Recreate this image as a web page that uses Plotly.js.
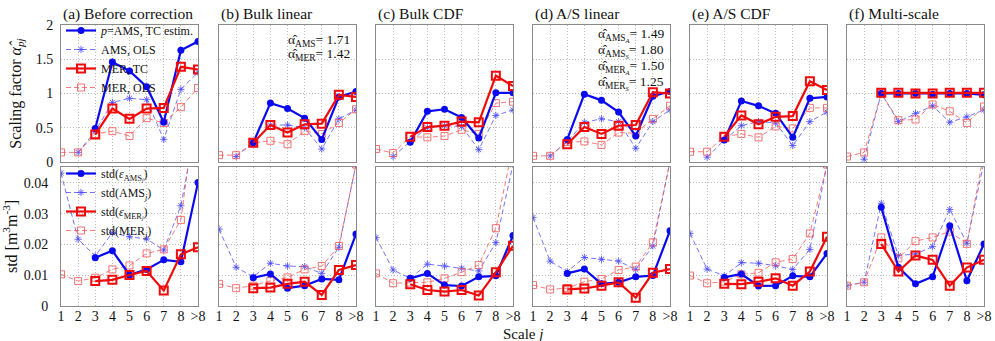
<!DOCTYPE html>
<html><head><meta charset="utf-8">
<script src="https://cdn.plot.ly/plotly-3.0.1.min.js"></script>
<style>html,body{margin:0;padding:0;background:#fff}#chart{width:995px;height:341px}</style>
</head><body><div id="chart"></div>
<script>
const scales = ['1','2','3','4','5','6','7','8','>8'];
const panelTitles = ['(a) Before correction','(b) Bulk linear','(c) Bulk CDF','(d) A/S linear','(e) A/S CDF','(f) Multi-scale'];
const topTicks = [0, 0.5, 1, 1.5, 2];
const topTickText = ['0','0.5','1','1.5','2'];
const botTicks = [0, 0.01, 0.02, 0.03, 0.04];
const botTickText = ['0','0.01','0.02','0.03','0.04'];

// Scaling factors (rows = panels a..f, columns = scales 1..>8)
const alphaAmsTC = [
 [null,null,0.49,1.46,1.33,1.10,0.58,1.63,1.76],
 [null,null,0.28,0.86,0.78,0.64,0.33,0.95,1.03],
 [null,null,0.29,0.74,0.77,0.65,0.35,1.01,1.01],
 [null,null,0.33,0.99,0.90,0.73,0.38,0.96,1.03],
 [null,null,0.32,0.89,0.82,0.71,0.36,0.93,0.95],
 [null,null,1.00,1.00,1.00,0.99,1.00,1.00,0.98]
];
const alphaAmsOLS = [
 [null,0.14,0.45,0.87,0.93,0.91,0.33,1.06,1.31],
 [null,0.08,0.28,0.54,0.54,0.50,0.19,0.63,0.76],
 [null,0.08,0.30,0.50,0.53,0.52,0.18,0.68,0.76],
 [null,0.09,0.30,0.58,0.63,0.59,0.20,0.59,0.76],
 [null,0.07,0.32,0.53,0.59,0.57,0.24,0.59,0.73],
 [null,0.04,1.00,0.59,0.71,0.82,0.58,0.66,0.76]
];
const alphaMerTC = [
 [null,null,0.40,0.78,0.63,0.78,0.79,1.39,1.35],
 [null,null,0.28,0.54,0.43,0.55,0.56,0.98,0.95],
 [null,null,0.37,0.51,0.53,0.59,0.58,1.26,1.11],
 [null,null,0.26,0.51,0.41,0.53,0.54,1.02,1.00],
 [null,null,0.37,0.68,0.55,0.66,0.67,1.18,1.05],
 [null,null,1.01,1.01,1.00,1.00,1.01,1.01,1.01]
];
const alphaMerOLS = [
 [0.14,0.14,0.41,0.45,0.38,0.64,0.57,0.80,1.08],
 [0.10,0.10,0.28,0.31,0.26,0.45,0.41,0.57,0.77],
 [0.19,0.13,0.37,0.36,0.38,0.47,0.41,0.86,0.88],
 [0.09,0.09,0.29,0.30,0.25,0.43,0.42,0.63,0.82],
 [0.15,0.15,0.37,0.41,0.36,0.52,0.49,0.79,0.79],
 [0.08,0.14,1.00,0.61,0.62,0.84,0.74,0.57,0.81]
];
// Standard deviations
const stdEpsAms = [
 [null,null,0.0157,0.0180,0.0101,0.0119,0.0150,0.0144,0.0402],
 [null,null,0.0092,0.0104,0.0058,0.0066,0.0088,0.0085,0.0234],
 [null,null,0.0090,0.0106,0.0068,0.0065,0.0095,0.0098,0.0229],
 [null,null,0.0106,0.0120,0.0072,0.0077,0.0095,0.0099,0.0245],
 [null,null,0.0093,0.0104,0.0065,0.0066,0.0098,0.0095,0.0171],
 [null,null,0.0321,0.0126,0.0072,0.0095,0.0261,0.0082,0.0202]
];
const stdAms = [
 [0.0432,0.0217,0.0163,0.0238,0.0225,0.0218,0.0182,0.0326,0.0620],
 [0.0250,0.0126,0.0095,0.0139,0.0130,0.0128,0.0106,0.0191,0.0460],
 [0.0223,0.0117,0.0090,0.0136,0.0130,0.0123,0.0114,0.0206,0.0460],
 [0.0288,0.0146,0.0112,0.0158,0.0152,0.0146,0.0119,0.0195,0.0470],
 [0.0236,0.0120,0.0098,0.0141,0.0139,0.0131,0.0119,0.0184,0.0460],
 [0.0066,0.0077,0.0334,0.0164,0.0169,0.0193,0.0314,0.0204,0.0470]
];
const stdEpsMer = [
 [null,null,0.0081,0.0085,0.0101,0.0114,0.0050,0.0168,0.0191],
 [null,null,0.0058,0.0060,0.0072,0.0079,0.0036,0.0117,0.0133],
 [null,null,0.0071,0.0052,0.0047,0.0052,0.0034,0.0110,0.0196],
 [null,null,0.0054,0.0057,0.0066,0.0077,0.0027,0.0108,0.0120],
 [null,null,0.0072,0.0071,0.0079,0.0090,0.0066,0.0112,0.0225],
 [null,null,0.0202,0.0112,0.0164,0.0150,0.0066,0.0125,0.0150]
];
const stdMer = [
 [0.0103,0.0081,0.0092,0.0119,0.0132,0.0171,0.0184,0.0280,0.0700],
 [0.0072,0.0058,0.0066,0.0082,0.0093,0.0119,0.0130,0.0195,0.0460],
 [0.0106,0.0074,0.0076,0.0077,0.0090,0.0110,0.0133,0.0253,0.0520],
 [0.0068,0.0054,0.0058,0.0079,0.0088,0.0117,0.0128,0.0207,0.0470],
 [0.0099,0.0074,0.0079,0.0103,0.0108,0.0142,0.0153,0.0236,0.0460],
 [0.0066,0.0077,0.0223,0.0155,0.0211,0.0223,0.0242,0.0202,0.0500]
];
// Bulk / A-S fitted exponents shown in panels (b) and (d)
const bulkAlphaNames = ['α̂<sub>AMS</sub>', 'α̂<sub>MER</sub>'];
const bulkAlphaValues = ['1.71', '1.42'];
const asAlphaNames = ['α̂<sub>AMS<sub><i>A</i></sub></sub>', 'α̂<sub>AMS<sub><i>S</i></sub></sub>', 'α̂<sub>MER<sub><i>A</i></sub></sub>', 'α̂<sub>MER<sub><i>S</i></sub></sub>'];
const asAlphaValues = ['1.49', '1.80', '1.50', '1.25'];

const topNames = ['<i>p</i>=AMS, TC estim.', 'AMS, OLS', 'MER, TC', 'MER, OLS'];
const botNames = ['std(<i>ε</i><sub>AMS<sub><i>j</i></sub></sub>)', 'std(AMS<sub><i>j</i></sub>)', 'std(<i>ε</i><sub>MER<sub><i>j</i></sub></sub>)', 'std(MER<sub><i>j</i></sub>)'];

const W = 995, H = 341;
const FONT = '"Liberation Serif", "Times New Roman", serif';
const colLeft = [61, 219, 376, 533, 690, 847];
const colW = 137;
const topPx = [25, 162], botPx = [167, 306];

const styles = [
  {color:'rgb(10,10,240)', width:2.2, dash:'solid', marker:{symbol:'circle', size:7, color:'rgb(10,10,240)'}},
  {color:'rgba(70,70,255,0.75)', width:1, dash:'5px,3px', marker:{symbol:'asterisk-open', size:6, color:'rgba(70,70,255,0.8)', line:{width:1, color:'rgba(70,70,255,0.8)'}}},
  {color:'rgb(240,10,10)', width:2.2, dash:'solid', marker:{symbol:'square-open', size:8, color:'rgb(240,10,10)', line:{width:2, color:'rgb(240,10,10)'}}},
  {color:'rgba(245,90,90,0.8)', width:1, dash:'5px,3px', marker:{symbol:'square-open', size:7, color:'rgba(245,90,90,0.85)', line:{width:1, color:'rgba(245,90,90,0.85)'}}}
];
const ranks = [1,2,3,4];
const drawOrder = [1,3,0,2];

const traces = [];
const legendCommon = {xanchor:'left', yanchor:'top', bgcolor:'rgba(0,0,0,0)', font:{family:FONT,size:12,color:'#111'}, itemwidth:30, tracegroupgap:0, traceorder:'normal'};
const layout = {
  width: W, height: H, margin:{l:0,r:0,t:0,b:0},
  paper_bgcolor:'#fff', plot_bgcolor:'#fff',
  font:{family:FONT, size:13.5, color:'#111'},
  showlegend:true,
  legend:Object.assign({x:61/W, y:1-16/H}, legendCommon),
  legend2:Object.assign({x:61/W, y:1-159/H}, legendCommon),
  annotations:[]
};

function axisCommon(){
  return {showline:true, mirror:true, linecolor:'#8a8a8a', linewidth:1,
    showgrid:true, gridcolor:'#bdbdbd', griddash:'1px,2px', gridwidth:1,
    zeroline:false, ticks:'', fixedrange:true};
}

for (let p = 0; p < 6; p++) {
  for (let row = 0; row < 2; row++) {
    const idx = row*6 + p + 1;
    const xn = idx === 1 ? 'x' : 'x'+idx;
    const yn = idx === 1 ? 'y' : 'y'+idx;
    const xa = Object.assign(axisCommon(), {
      type:'category', categoryorder:'array', categoryarray:scales,
      tickmode:'array', tickvals:scales, ticktext:scales,
      range:[0, scales.length-1], anchor:yn,
      domain:[colLeft[p]/W, (colLeft[p]+colW)/W],
      showticklabels: row===1, tickfont:{family:FONT,size:14,color:'#111'},
      ticklabelstandoff: -3
    });
    const pxr = row===0 ? topPx : botPx;
    const ya = Object.assign(axisCommon(), {
      anchor:xn, domain:[1-pxr[1]/H, 1-pxr[0]/H],
      range: row===0 ? [0,2] : [0,0.0452],
      tickmode:'array',
      tickvals: row===0 ? topTicks : botTicks,
      ticktext: row===0 ? topTickText : botTickText,
      showticklabels: p===0, tickfont:{family:FONT,size:14,color:'#111'},
      ticklabelstandoff: row===0 ? 4 : 9
    });
    if (p===0) {
      ya.title = {text: row===0 ? 'Scaling factor <i>α̂</i><sub><i>pj</i></sub>' : 'std [m<sup>3</sup>m<sup>-3</sup>]',
        font:{family:FONT,size:16,color:'#111'}, standoff: row===0 ? 10 : 3};
    }
    layout[idx===1?'xaxis':'xaxis'+idx] = xa;
    layout[idx===1?'yaxis':'yaxis'+idx] = ya;

    const series = row===0 ? [alphaAmsTC, alphaAmsOLS, alphaMerTC, alphaMerOLS] : [stdEpsAms, stdAms, stdEpsMer, stdMer];
    const names = row===0 ? topNames : botNames;
    for (const s of drawOrder) {
      const st = styles[s];
      traces.push({
        type:'scatter', mode:'lines+markers', x:scales, y:series[s][p],
        xaxis:xn, yaxis:yn, name:names[s],
        line:{color:st.color, width:st.width, dash:st.dash},
        marker:st.marker, connectgaps:false,
        showlegend: p===0, legend: row===0 ? 'legend' : 'legend2',
        legendrank: ranks[s], hoverinfo:'skip'
      });
    }
  }
  layout.annotations.push({text:panelTitles[p], xref:'paper', yref:'paper',
    x:colLeft[p]/W, y:1-14/H, xanchor:'left', yanchor:'middle', showarrow:false,
    font:{family:FONT,size:15.5,color:'#111'}});
}
// fitted exponent labels
bulkAlphaNames.forEach((n,i)=>{
  layout.annotations.push({text:n+'= '+bulkAlphaValues[i], xref:'paper', yref:'paper',
    x:(colLeft[1]+colW-4)/W, y:1-(40+15*i)/H, xanchor:'right', yanchor:'middle', showarrow:false,
    font:{family:FONT,size:13.5,color:'#111'}});
});
asAlphaNames.forEach((n,i)=>{
  layout.annotations.push({text:n+'= '+asAlphaValues[i], xref:'paper', yref:'paper',
    x:(colLeft[3]+colW-4)/W, y:1-(35+16*i)/H, xanchor:'right', yanchor:'middle', showarrow:false,
    font:{family:FONT,size:13.5,color:'#111'}});
});
layout.annotations.push({text:'Scale <i>j</i>', xref:'paper', yref:'paper',
  x:(colLeft[0]+colLeft[5]+colW)/2/W, y:1-334/H, xanchor:'center', yanchor:'middle', showarrow:false,
  font:{family:FONT,size:15,color:'#111'}});

Plotly.newPlot('chart', traces, layout, {displayModeBar:false, staticPlot:true});
</script></body></html>
